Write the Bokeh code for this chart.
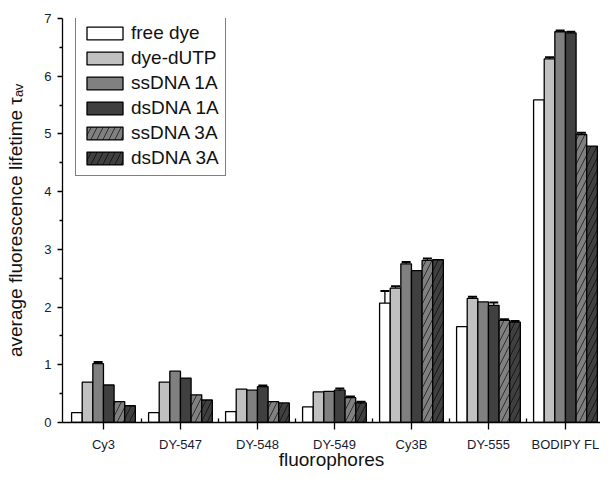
from bokeh.plotting import figure
from bokeh.models import (ColumnDataSource, Range1d, FixedTicker, Whisker, TeeHead,
                          Legend, LegendItem)
from bokeh.transform import dodge
from bokeh.embed import file_html
from bokeh.resources import INLINE

groups = ["Cy3", "DY-547", "DY-548", "DY-549", "Cy3B", "DY-555", "BODIPY FL"]
series_names = ["free dye", "dye-dUTP", "ssDNA 1A", "dsDNA 1A", "ssDNA 3A", "dsDNA 3A"]

free_dye = [0.17, 0.17, 0.19, 0.27, 2.07, 1.66, 5.59]
dye_dutp = [0.70, 0.70, 0.58, 0.53, 2.33, 2.15, 6.30]
ssdna_1a = [1.02, 0.89, 0.56, 0.54, 2.75, 2.09, 6.77]
dsdna_1a = [0.65, 0.77, 0.62, 0.56, 2.63, 2.03, 6.75]
ssdna_3a = [0.36, 0.48, 0.36, 0.43, 2.81, 1.77, 4.99]
dsdna_3a = [0.29, 0.39, 0.34, 0.34, 2.82, 1.74, 4.79]

free_err = [0, 0, 0, 0, 0.21, 0, 0]
dutp_err = [0, 0, 0, 0, 0.03, 0.03, 0.03]
ss1a_err = [0.03, 0, 0, 0, 0.03, 0, 0.02]
ds1a_err = [0, 0, 0.02, 0.03, 0, 0.05, 0.02]
ss3a_err = [0, 0, 0, 0.02, 0.03, 0.02, 0.03]
ds3a_err = [0, 0, 0, 0.02, 0, 0.02, 0]

y_ticks = [0, 1, 2, 3, 4, 5, 6, 7]
x_title = "fluorophores"
y_title = "average fluorescence lifetime τₐᵥ"

values = [free_dye, dye_dutp, ssdna_1a, dsdna_1a, ssdna_3a, dsdna_3a]
errors = [free_err, dutp_err, ss1a_err, ds1a_err, ss3a_err, ds3a_err]
fills = ["#FFFFFF", "#C0C0C0", "#808080", "#404040", "#808080", "#404040"]
hatches = [None, None, None, None, "/", "/"]

FONT = "Liberation Sans"
BAR_W = 0.138

p = figure(width=600, height=472, output_backend="svg", toolbar_location=None,
           x_range=Range1d(-0.532, 6.455), y_range=Range1d(0, 7),
           min_border_left=62, min_border_right=0, min_border_top=18, min_border_bottom=44)
p.outline_line_color = None
p.xgrid.visible = False
p.ygrid.visible = False
p.background_fill_color = "white"
p.border_fill_color = "white"

src = ColumnDataSource(dict(x=list(range(len(groups)))))
for k, vals in enumerate(values):
    src.data["v%d" % k] = vals

items = []
for k, name in enumerate(series_names):
    off = (k - 2.5) * BAR_W
    kw = dict(x=dodge("x", off, range=p.x_range), top="v%d" % k, width=BAR_W, source=src,
              fill_color=fills[k], line_color="black", line_width=1.3)
    if hatches[k]:
        kw.update(hatch_pattern=hatches[k], hatch_scale=12, hatch_color="black",
                  hatch_weight=0.8, hatch_alpha=0.8)
    r = p.vbar(**kw)
    items.append(LegendItem(label=name, renderers=[r]))

    xs, lo, up = [], [], []
    for i, (v, e) in enumerate(zip(values[k], errors[k])):
        if e > 0:
            xs.append(i + off)
            lo.append(v - e)
            up.append(v + e)
    if xs:
        wsrc = ColumnDataSource(dict(x=xs, lower=lo, upper=up))
        w = Whisker(base="x", lower="lower", upper="upper", source=wsrc,
                    line_color="black", line_width=1.3,
                    upper_head=TeeHead(size=9, line_color="black", line_width=2),
                    lower_head=TeeHead(size=9, line_color="black", line_width=1.3))
        p.add_layout(w)

legend = Legend(items=items, location=(13, 246), glyph_width=45, glyph_height=16,
                label_standoff=4, spacing=3, padding=6, margin=0,
                label_text_font=FONT, label_text_font_size="19px", label_text_color="#111111",
                border_line_color="black", border_line_width=1.3,
                background_fill_color="white", background_fill_alpha=1.0)
p.add_layout(legend, "center")

# x axis
p.xaxis.ticker = FixedTicker(ticks=list(range(len(groups))),
                             minor_ticks=[i + 0.5 for i in range(len(groups))])
p.xaxis.major_label_overrides = {i: g for i, g in enumerate(groups)}
p.xaxis.major_tick_out = 7
p.xaxis.major_tick_in = 0
p.xaxis.minor_tick_in = 4
p.xaxis.minor_tick_out = 0
p.xaxis.axis_label = x_title

# y axis
p.yaxis.ticker = FixedTicker(ticks=y_ticks, minor_ticks=[t + 0.5 for t in y_ticks[:-1]])
p.yaxis.major_tick_out = 5
p.yaxis.major_tick_in = 0
p.yaxis.minor_tick_out = 3
p.yaxis.minor_tick_in = 0
p.yaxis.axis_label = y_title

for ax in (p.xaxis[0], p.yaxis[0]):
    ax.axis_line_color = "black"
    ax.axis_line_width = 1.3
    ax.major_tick_line_color = "black"
    ax.major_tick_line_width = 1.3
    ax.minor_tick_line_color = "black"
    ax.minor_tick_line_width = 1.3
    ax.major_label_text_font = FONT
    ax.major_label_text_font_size = "13px"
    ax.major_label_text_color = "#1a1a2e"
    ax.axis_label_text_font = FONT
    ax.axis_label_text_font_size = "19px"
    ax.axis_label_text_font_style = "normal"
    ax.axis_label_text_color = "#111111"

p.xaxis.major_label_standoff = 7
p.xaxis.axis_label_standoff = -6
p.yaxis.major_label_standoff = 6
p.yaxis.axis_label_standoff = 15

open("out.html", "w").write(file_html(p, INLINE))
